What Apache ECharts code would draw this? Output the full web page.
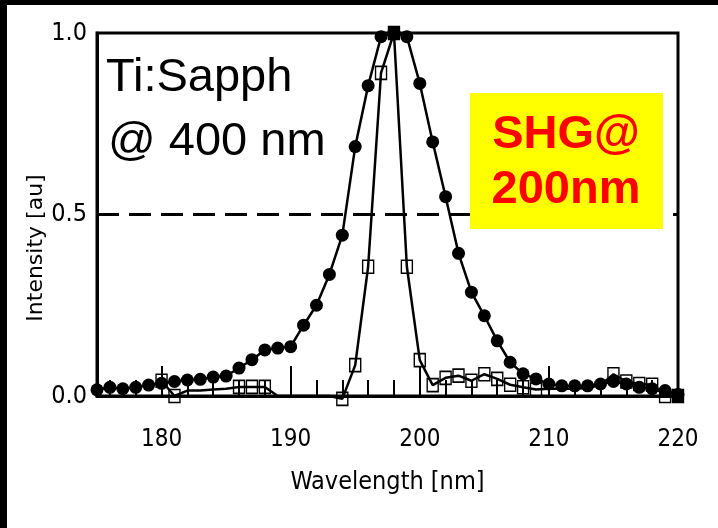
<!DOCTYPE html>
<html><head><meta charset="utf-8">
<script src="https://cdn.jsdelivr.net/npm/echarts@6/dist/echarts.min.js"></script>
<style>html,body{margin:0;padding:0;background:#fff}#c{width:718px;height:528px}</style>
</head><body><div id="c"></div>
<script>
// Ti:Sapph (filled circles)
const circleX = [175,176,177,178,179,180,181,182,183,184,185,186,187,188,189,190,191,192,193,194,195,196,197,198,199,200,201,202,203,204,205,206,207,208,209,210,211,212,213,214,215,216,217,218,219,220];
const circleY = [0.017,0.024,0.020,0.024,0.030,0.035,0.040,0.044,0.046,0.052,0.055,0.077,0.100,0.127,0.132,0.136,0.195,0.250,0.335,0.443,0.687,0.855,0.990,1.000,0.990,0.861,0.700,0.549,0.393,0.286,0.221,0.152,0.093,0.061,0.047,0.033,0.028,0.028,0.028,0.033,0.040,0.033,0.024,0.020,0.015,0.004];
// SHG (open squares)
const shgX = [180,181,182,183,184,185,186,187,188,189,190,191,192,193,194,195,196,197,198,199,200,201,202,203,204,205,206,207,208,209,210,211,212,213,214,215,216,217,218,219,220];
const shgY = [0.042,0.000,0.015,0.015,0.018,0.020,0.025,0.025,0.025,0.000,0.000,0.000,0.000,0.000,-0.008,0.085,0.356,0.890,1.000,0.356,0.099,0.030,0.050,0.056,0.042,0.060,0.047,0.031,0.024,0.018,0.020,0.020,0.020,0.022,0.030,0.060,0.040,0.033,0.031,0.000,0.000];
const shgNoMarker = [182,183,184,185,189,190,191,192,193,210,211,212,213,214];
const shgFilled = [198,220];
// axis ticks / labels
const xLabels = [180,190,200,210,220];
const xMinorTicks = [176,178,180,182,184,186,188,190,192,194,196,198,200,202,204,206,208,210,212,214,216,218];
const yLabels = [0, 0.5, 1.0];

const NARROW = '"Liberation Sans Narrow","DejaVu Sans Condensed",sans-serif';
const chart = echarts.init(document.getElementById('c'), null, {renderer:'canvas'});

const shgData = shgX.map((x,i)=>{
  const d = {value:[x, shgY[i]]};
  if (shgNoMarker.includes(x)) d.symbol = 'none';
  if (shgFilled.includes(x)) d.itemStyle = {color:'#000'};
  return d;
});

chart.setOption({
  animation:false,
  backgroundColor:'#fff',
  grid:{left:97,right:40,top:33,bottom:132,show:true,borderColor:'#000',borderWidth:3,backgroundColor:'transparent'},
  xAxis:[{
    type:'value',min:175,max:220,position:'bottom',
    axisLine:{show:true,lineStyle:{color:'#000',width:3}},
    axisTick:{show:true,inside:true,length:30,lineStyle:{color:'#000',width:2},customValues:xLabels},
    axisLabel:{customValues:xLabels,fontSize:24,fontFamily:NARROW,color:'#000',margin:32},
    splitLine:{show:false},
    name:'Wavelength [nm]',nameLocation:'middle',nameGap:74,
    nameTextStyle:{fontSize:25,fontFamily:NARROW,color:'#000'}
  },{
    type:'value',min:175,max:220,position:'bottom',
    axisLine:{show:false},
    axisTick:{show:true,inside:true,length:16,lineStyle:{color:'#000',width:2},customValues:xMinorTicks},
    axisLabel:{show:false},
    splitLine:{show:false}
  }],
  yAxis:{
    type:'value',min:0,max:1,interval:0.5,
    axisLine:{show:true,lineStyle:{color:'#000',width:3}},
    axisTick:{show:false},splitLine:{show:false},
    axisLabel:{customValues:yLabels,formatter:v=>v.toFixed(1),fontSize:25,fontFamily:NARROW,color:'#000',margin:10,padding:[9,0,0,0]}
  },
  series:[{
    type:'line',name:'SHG',data:shgData,clip:false,
    symbol:'rect',symbolSize:[11,13],showAllSymbol:true,
    itemStyle:{color:'rgba(255,255,255,0)',borderColor:'#000',borderWidth:1.5},
    lineStyle:{color:'#000',width:2.5},z:3
  },{
    type:'line',name:'Ti:Sapph',data:circleX.map((x,i)=>[x,circleY[i]]),clip:false,
    symbol:'circle',symbolSize:13,showAllSymbol:true,
    itemStyle:{color:'#000'},lineStyle:{color:'#000',width:2.5},z:4,
    markLine:{silent:true,symbol:['none','none'],label:{show:false},
      lineStyle:{color:'#000',width:3,type:[22,10]},data:[{yAxis:0.5}]}
  }],
  graphic:[
    {type:'rect',z:100,shape:{x:0,y:0,width:718,height:5},style:{fill:'#000'}},
    {type:'rect',z:100,shape:{x:0,y:0,width:7,height:528},style:{fill:'#000'}},
    {type:'rect',z:50,shape:{x:470,y:93,width:193,height:136},style:{fill:'#ffff00'}},
    {type:'text',z:51,x:566,y:135,style:{text:'SHG@',font:'bold 47px "Liberation Sans",Arial,sans-serif',fill:'#ff0000',align:'center',verticalAlign:'middle',textAlign:'center',textVerticalAlign:'middle'}},
    {type:'text',z:51,x:566,y:190,style:{text:'200nm',font:'bold 47px "Liberation Sans",Arial,sans-serif',fill:'#ff0000',align:'center',verticalAlign:'middle',textAlign:'center',textVerticalAlign:'middle'}},
    {type:'text',z:51,x:106,y:78,style:{text:'Ti:Sapph',font:'47px "Liberation Sans",Arial,sans-serif',fill:'#000',align:'left',verticalAlign:'middle',textAlign:'left',textVerticalAlign:'middle'}},
    {type:'text',z:51,x:108,y:142,style:{text:'@ 400 nm',font:'47px "Liberation Sans",Arial,sans-serif',fill:'#000',align:'left',verticalAlign:'middle',textAlign:'left',textVerticalAlign:'middle'}},
    {type:'text',z:51,x:36,y:248,rotation:Math.PI/2,style:{text:'Intensity [au]',font:'22px "DejaVu Sans",sans-serif',fill:'#000',align:'center',verticalAlign:'middle',textAlign:'center',textVerticalAlign:'middle'}}
  ]
});
</script></body></html>
